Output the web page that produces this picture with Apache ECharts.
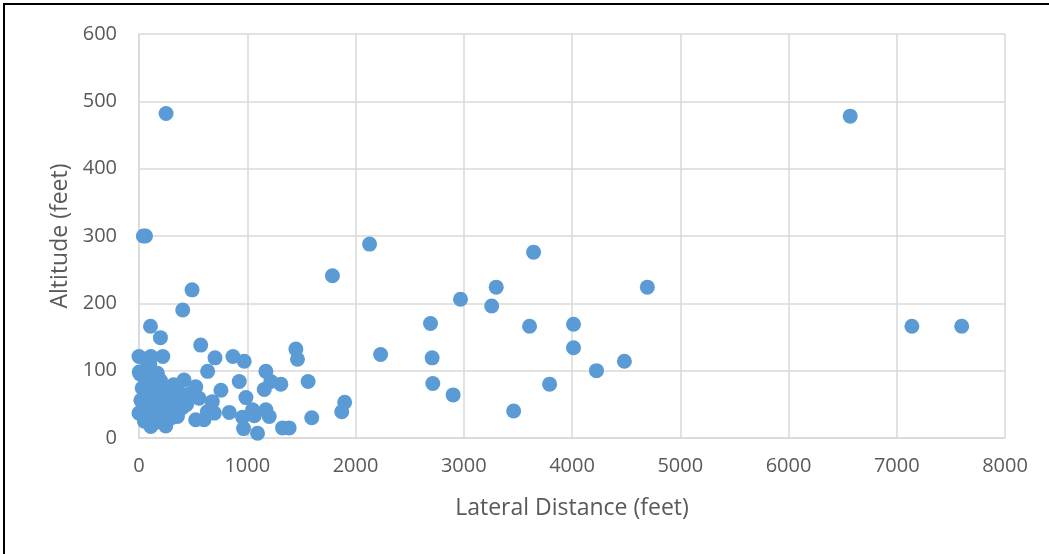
<!DOCTYPE html>
<html>
<head>
<meta charset="utf-8">
<script src="https://cdn.jsdelivr.net/npm/echarts@6/dist/echarts.min.js"></script>
<style>
html,body{margin:0;padding:0;background:#fff;overflow:hidden;}
#frame{position:absolute;left:3px;top:3px;width:1200px;height:700px;border-left:2px solid #000;border-top:2px solid #000;}
#chart{position:absolute;left:0;top:0;width:1049px;height:554px;}
</style>
</head>
<body>
<div id="frame"></div>
<div id="chart"></div>
<script>
const xTitle = "Lateral Distance (feet)";
const yTitle = "Altitude (feet)";
const xTicks = [0, 1000, 2000, 3000, 4000, 5000, 6000, 7000, 8000];
const yTicks = [0, 100, 200, 300, 400, 500, 600];

// lateral distance (feet)
const lateral = [
  0,110,220,2,78,170,100,150,30,124,200,250,320,416,524,493,555,385,17,109,
  60,324,280,440,631,0,78,355,232,140,524,600,109,247,40,180,210,260,300,360,
  460,400,150,60,90,200,50,10,
  106,198,570,404,490,250,40,60,634,677,696,702,757,834,868,926,957,972,988,966,
  1049,1065,1095,1157,1172,1172,1203,1218,1310,1326,1387,1449,1464,1562,1596,1873,1900,1787,2130,2232,
  2693,2708,2714,2902,2970,3258,3300,3461,3608,3645,3793,4014,4014,4226,4484,4696,6570,7140,7600
];
// altitude (feet)
const altitude = [
  121,121,121,98,106,96,110,90,74,76,85,66,79,86,76,64,59,59,56,52,
  62,47,55,50,39,37,34,32,27,22,27,27,17,18,45,40,70,40,30,70,
  65,45,60,85,45,55,25,95,
  166,149,138,190,220,482,300,300,99,54,37,119,71,38,121,84,31,114,60,14,
  42,33,7,72,99,42,32,84,80,15,15,132,117,84,30,39,53,241,288,124,
  170,119,81,64,206,196,224,40,166,276,80,169,134,100,114,224,478,166,166
];

const points = lateral.map((x, i) => [x, altitude[i]]);

const chart = echarts.init(document.getElementById('chart'), null, {renderer: 'canvas'});
const labelColor = '#595959';
const gridColor = '#D9D9D9';
const font = '"Open Sans", "Liberation Sans", sans-serif';
const plain = v => String(v);

chart.setOption({
  animation: false,
  backgroundColor: 'transparent',
  grid: {left: 139, right: 44, top: 34, bottom: 116, containLabel: false},
  xAxis: {
    type: 'value',
    min: xTicks[0], max: xTicks[xTicks.length - 1], interval: 1000,
    name: xTitle, nameLocation: 'middle', nameGap: 59,
    nameTextStyle: {color: labelColor, fontSize: 23, fontFamily: font},
    axisLine: {show: true, lineStyle: {color: gridColor, width: 1.5}},
    axisTick: {show: false},
    axisLabel: {color: labelColor, fontSize: 20, fontFamily: font, margin: 18, formatter: plain},
    splitLine: {show: true, lineStyle: {color: gridColor, width: 1.5}}
  },
  yAxis: {
    type: 'value',
    min: yTicks[0], max: yTicks[yTicks.length - 1], interval: 100,
    name: yTitle, nameLocation: 'middle', nameGap: 66,
    nameTextStyle: {color: labelColor, fontSize: 23, fontFamily: font},
    axisLine: {show: true, lineStyle: {color: gridColor, width: 1.5}},
    axisTick: {show: false},
    axisLabel: {color: labelColor, fontSize: 20, fontFamily: font, margin: 22, formatter: plain},
    splitLine: {show: true, lineStyle: {color: gridColor, width: 1.5}}
  },
  series: [{
    type: 'scatter',
    data: points,
    symbol: 'circle',
    symbolSize: 15,
    itemStyle: {color: '#5B9BD5', opacity: 1}
  }]
});
</script>
</body>
</html>
